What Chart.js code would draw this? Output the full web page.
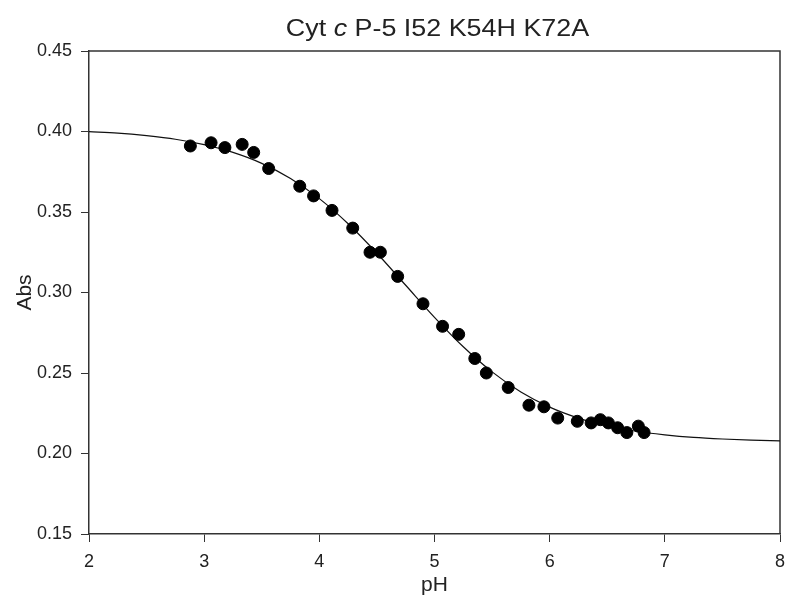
<!DOCTYPE html>
<html><head><meta charset="utf-8">
<script src="https://cdn.jsdelivr.net/npm/chart.js@4.4.0/dist/chart.umd.min.js"></script>
<style>html,body{margin:0;padding:0;background:#fff}#wrap{width:787px;height:598px}</style>
</head><body><div id="wrap"><canvas id="c" width="787" height="598"></canvas></div>
<script>
// Title pieces (the "c" is italic)
const titleParts = ["Cyt ", "c", " P-5 I52 K54H K72A"];
const xAxisTitle = "pH";
const yAxisTitle = "Abs";

// Measured points
const pH  = [2.88, 3.06, 3.18, 3.33, 3.43, 3.56, 3.83, 3.95, 4.11, 4.29, 4.44, 4.53, 4.68, 4.90,
             5.07, 5.21, 5.35, 5.45, 5.64, 5.82, 5.95, 6.07, 6.24, 6.36, 6.44, 6.51, 6.59, 6.67, 6.77, 6.82];
const abs = [0.391, 0.393, 0.390, 0.392, 0.387, 0.377, 0.366, 0.360, 0.351, 0.340, 0.325, 0.325, 0.310, 0.293,
             0.279, 0.274, 0.259, 0.250, 0.241, 0.230, 0.229, 0.222, 0.220, 0.219, 0.221, 0.219, 0.216, 0.213, 0.217, 0.213];

// Fitted curve
const fitPH  = [2.00, 2.25, 2.50, 2.75, 3.00, 3.25, 3.50, 3.75, 4.00, 4.25, 4.50, 4.75, 5.00,
                5.25, 5.50, 5.75, 6.00, 6.25, 6.50, 6.75, 7.00, 7.25, 7.50, 7.75, 8.00];
const fitAbs = [0.3999, 0.3990, 0.3974, 0.3952, 0.3918, 0.3870, 0.3802, 0.3708, 0.3583, 0.3427, 0.3244, 0.3045, 0.2846,
                0.2663, 0.2507, 0.2382, 0.2288, 0.2220, 0.2172, 0.2138, 0.2116, 0.2100, 0.2090, 0.2083, 0.2079];

const xTicks = [2, 3, 4, 5, 6, 7, 8];
const yTicks = [0.15, 0.20, 0.25, 0.30, 0.35, 0.40, 0.45];
const yTickLabels = ["0.15", "0.20", "0.25", "0.30", "0.35", "0.40", "0.45"];

const FONT = "'Liberation Sans', Arial, sans-serif";
const INK = "#222";
const AXIS = "#333";

const framePlugin = {
  id: 'frame',
  beforeDatasetsDraw(chart) {
    const {ctx, chartArea: a} = chart;
    ctx.save();
    ctx.strokeStyle = AXIS;
    ctx.lineWidth = 1.5;
    ctx.beginPath();
    ctx.moveTo(a.left, a.top);
    ctx.lineTo(a.right, a.top);
    ctx.lineTo(a.right, a.bottom);
    ctx.stroke();
    ctx.restore();
  }
};

const titlePlugin = {
  id: 'richTitle',
  afterDraw(chart) {
    const {ctx, chartArea: a} = chart;
    ctx.save();
    ctx.fillStyle = INK;
    ctx.textBaseline = 'alphabetic';
    const sx = 1.12;
    const fonts = ["24px " + FONT, "italic 24px " + FONT, "24px " + FONT];
    const widths = titleParts.map((t, i) => { ctx.font = fonts[i]; return ctx.measureText(t).width; });
    const total = widths.reduce((s, w) => s + w, 0) * sx;
    const cx = (a.left + a.right) / 2 + 3;
    ctx.translate(cx - total / 2, 36);
    ctx.scale(sx, 1);
    let x = 0;
    titleParts.forEach((t, i) => {
      ctx.font = fonts[i];
      ctx.textAlign = 'left';
      ctx.fillText(t, x, 0);
      x += widths[i];
    });
    ctx.restore();
  }
};

new Chart(document.getElementById('c'), {
  type: 'scatter',
  data: {
    datasets: [
      {
        label: 'data',
        data: pH.map((x, i) => ({x, y: abs[i]})),
        backgroundColor: '#000',
        borderColor: '#000',
        pointRadius: 6,
        pointHoverRadius: 6,
        order: 0
      },
      {
        label: 'fit',
        type: 'line',
        data: fitPH.map((x, i) => ({x, y: fitAbs[i]})),
        borderColor: '#111',
        borderWidth: 1.2,
        pointRadius: 0,
        fill: false,
        cubicInterpolationMode: 'monotone',
        order: 1
      }
    ]
  },
  options: {
    responsive: false,
    animation: false,
    devicePixelRatio: 1,
    layout: {padding: {top: 51, right: 6, left: 0, bottom: 0}},
    plugins: {legend: {display: false}, tooltip: {enabled: false}, title: {display: false}},
    scales: {
      x: {
        type: 'linear', min: 2, max: 8,
        afterBuildTicks: s => { s.ticks = xTicks.map(v => ({value: v})); },
        afterFit: s => { s.height = 64; s.paddingLeft = 0; s.paddingRight = 0; },
        ticks: {font: {family: FONT, size: 18}, color: INK, padding: 9, maxRotation: 0, autoSkip: false,
                callback: v => String(v)},
        grid: {drawOnChartArea: false, drawTicks: true, tickLength: 8, color: AXIS, lineWidth: 1},
        border: {display: true, color: AXIS, width: 1.5},
        title: {display: true, text: xAxisTitle, color: INK, font: {family: FONT, size: 21}, padding: {top: 0, bottom: 0}}
      },
      y: {
        type: 'linear', min: 0.15, max: 0.45,
        afterBuildTicks: s => { s.ticks = yTicks.map(v => ({value: v})); },
        afterFit: s => { s.width = 89; s.paddingTop = 0; s.paddingBottom = 0; },
        ticks: {font: {family: FONT, size: 18}, color: INK, padding: 9, autoSkip: false,
                callback: v => { const i = yTicks.findIndex(t => Math.abs(t - v) < 1e-9); return i >= 0 ? yTickLabels[i] : ''; }},
        grid: {drawOnChartArea: false, drawTicks: true, tickLength: 8, color: AXIS, lineWidth: 1},
        border: {display: true, color: AXIS, width: 1.5},
        title: {display: true, text: yAxisTitle, color: INK, font: {family: FONT, size: 21}, padding: {top: 13, bottom: 0}}
      }
    }
  },
  plugins: [framePlugin, titlePlugin]
});
</script>
</body></html>
